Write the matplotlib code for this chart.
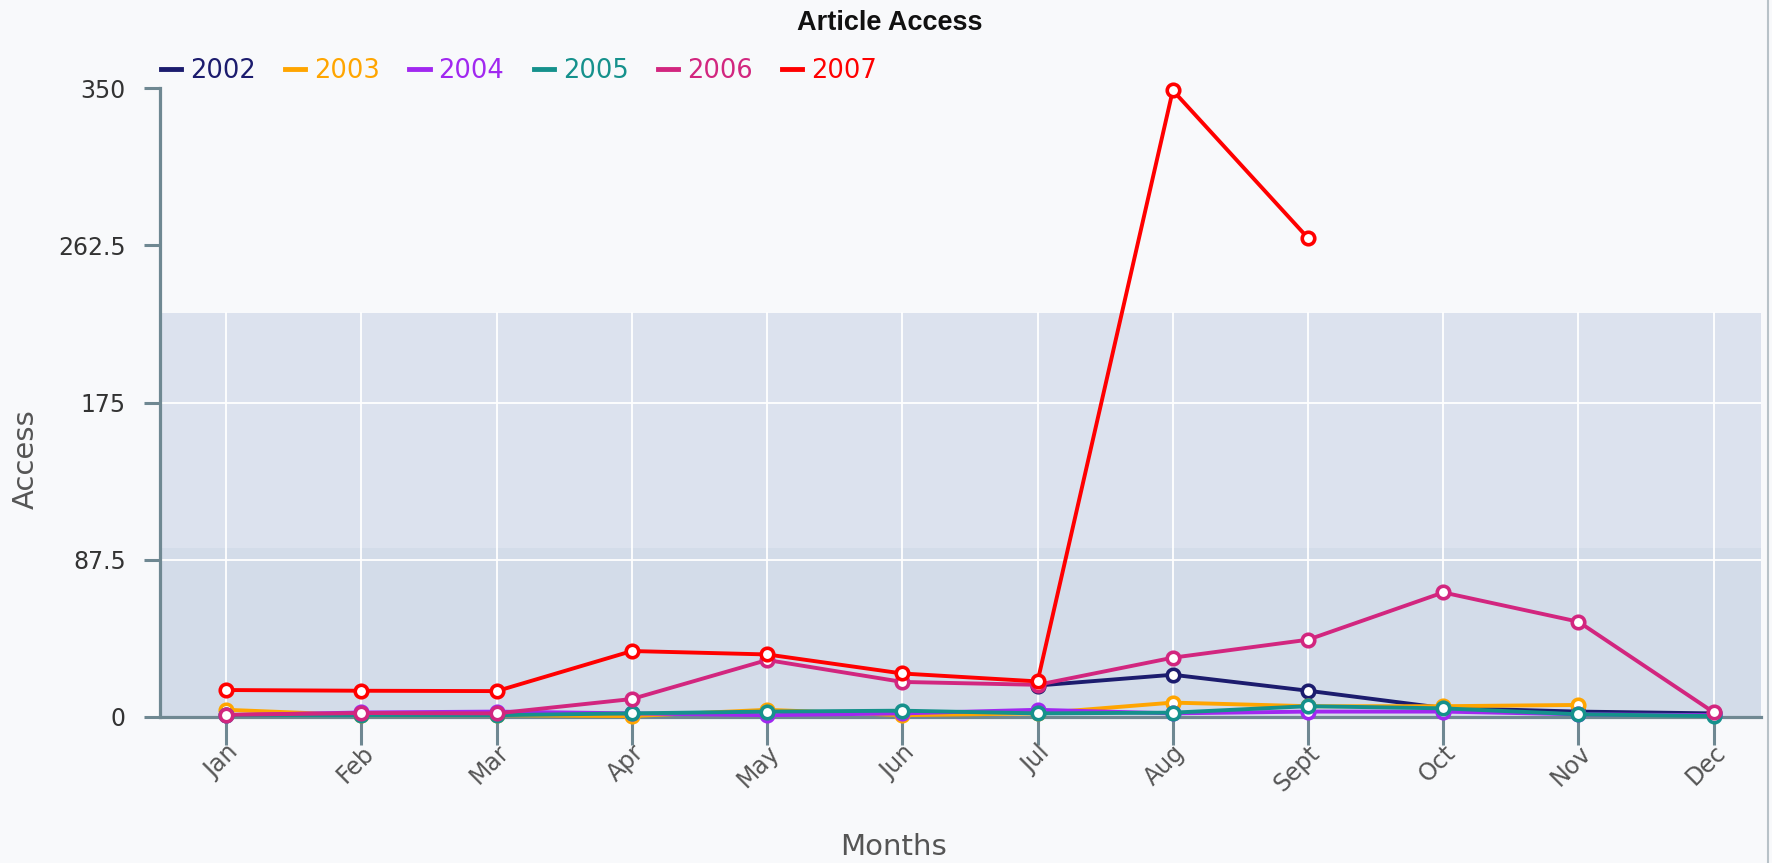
import numpy as np
import matplotlib
matplotlib.use("Agg")
import matplotlib.pyplot as plt
from matplotlib.lines import Line2D

nan = np.nan

# monthly article access per year (nan = no data for that month)
months = ["Jan", "Feb", "Mar", "Apr", "May", "Jun", "Jul", "Aug", "Sept", "Oct", "Nov", "Dec"]
years = ["2002", "2003", "2004", "2005", "2006", "2007"]

access_2002 = [nan, nan, nan, nan, nan, nan, 17.5, 23.5, 14.6, 5, 3, 2]
access_2003 = [4, 1, 1, 0.5, 4, 1, 2, 8, 6, 6, 6.7, nan]
access_2004 = [1, 2.5, 3, 2, 1, 2, 4, 2, 3, 3, 1.5, 1]
access_2005 = [1, 1, 1, 2, 3, 3.5, 2, 2.4, 6, 4.8, 1.5, 0.5]
access_2006 = [1.2, 2.2, 2, 10, 31.7, 19.5, 17.9, 33, 43, 69.3, 53, 2.6]
access_2007 = [15, 14.6, 14.4, 36.7, 34.8, 24.2, 19.8, 348.7, 266.5, nan, nan, nan]

series = [access_2002, access_2003, access_2004, access_2005, access_2006, access_2007]
colors = ["#1c1c6e", "#ffa500", "#a128f0", "#15918c", "#d2267f", "#ff0000"]

y_ticks = [0, 87.5, 175, 262.5, 350]
y_tick_labels = ["0", "87.5", "175", "262.5", "350"]
bands = [(0, 94, "#d3dce9"), (94, 225, "#dce2ee")]

bg = "#f8f9fb"
axis_col = "#6f8892"

fig = plt.figure(figsize=(17.72, 8.63), dpi=100, facecolor=bg)
ax = fig.add_axes([0.0903, 0.1692, 0.9035, 0.7288])
ax.set_facecolor(bg)

x = np.arange(len(months))
ax.set_xlim(-0.49, 11.35)
ax.set_ylim(0, 350)

# shaded bands behind the data
for lo, hi, c in bands:
    ax.axhspan(lo, hi, color=c, zorder=0, lw=0)

for xi in x:
    ax.plot([xi, xi], [0, 225], color="white", lw=1.3, zorder=1)
for yv in y_ticks[1:3]:
    ax.axhline(yv, color="white", lw=1.3, zorder=1)

for vals, c, yr in zip(series, colors, years):
    ax.plot(x, vals, color=c, lw=2.8, marker="o", ms=9,
            mfc="white", mec=c, mew=2.6, zorder=3, clip_on=False, label=yr)

for s in ["top", "right"]:
    ax.spines[s].set_visible(False)
ax.spines["left"].set_color(axis_col)
ax.spines["left"].set_linewidth(2.3)
ax.spines["bottom"].set_color(axis_col)
ax.spines["bottom"].set_linewidth(2.3)

ax.set_yticks(y_ticks)
ax.set_yticklabels(y_tick_labels)
ax.set_xticks(x)
ax.set_xticklabels(months, rotation=45, ha="right", rotation_mode="anchor")
ax.tick_params(axis="y", length=11.5, width=2.2, color=axis_col, labelsize=17,
               labelcolor="#333333", pad=13)
ax.tick_params(axis="x", length=20, width=2.2, color=axis_col, labelsize=17,
               labelcolor="#555555", pad=-3)

ax.set_xlabel("Months", fontsize=21, color="#555555")
ax.xaxis.set_label_coords(0.458, -0.184)
ax.set_ylabel("Access", fontsize=21, color="#555555")
ax.yaxis.set_label_coords(-0.075, 0.41)

fig.text(0.502, 0.973, "Article Access", ha="center", va="center",
         fontsize=19.5, fontweight="bold", family="Liberation Sans", color="#111111")

handles = [Line2D([0], [0], color=c, lw=3.5) for c in colors]
leg = ax.legend(handles, years, loc="lower left", bbox_to_anchor=(-0.006, 0.99),
                ncol=6, frameon=False, handlelength=0.78, handletextpad=0.35,
                columnspacing=1.15, fontsize=18.5, borderaxespad=0)
for t, c in zip(leg.get_texts(), colors):
    t.set_color(c)

# right border of the chart
fig.add_artist(Line2D([0.9975, 0.9975], [0, 1], color="#b8c2c8", lw=1.5))

fig.savefig("out.png", dpi=100, facecolor=bg)
